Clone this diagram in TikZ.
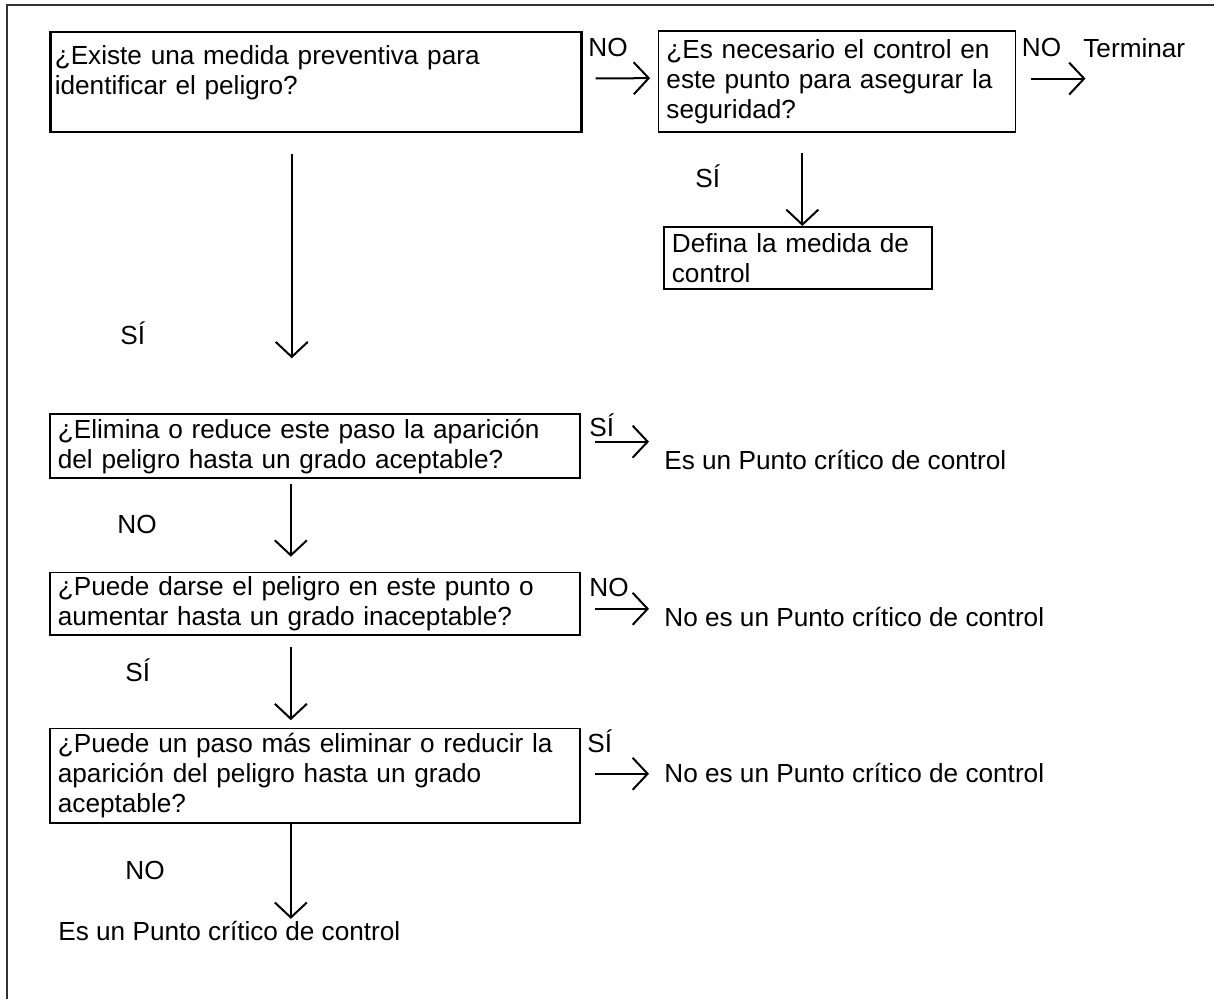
\documentclass[tikz,border=0pt]{standalone}
\usepackage{fontspec}
\setmainfont{Liberation Sans}
\usetikzlibrary{arrows.meta,positioning,calc}

\begin{document}
\begin{tikzpicture}[
    x=0.02cm, y=-0.02cm,
    every node/.style={font=\fontsize{14.9pt}{17.1pt}\selectfont},
    box/.style={draw=black, line width=0.035cm, anchor=north west, align=left, inner xsep=0.16cm, inner ysep=0pt},
    lbl/.style={anchor=base west, inner sep=0pt},
    arrow/.style={-{Straight Barb[length=0.3cm, width=0.64cm]}, line width=0.04cm},
    frame/.style={draw=black!80, line width=0.04cm}
]
    \useasboundingbox (0,0) rectangle (1214,999);
    \draw[frame] (1214,5) -- (7,5) -- (7,999);

    % cajas de decision
    \node[box, line width=0.055cm, inner xsep=0.08cm, minimum width=10.62cm, minimum height=2cm, text width=10.46cm, text depth=1.1cm] (medida) at (49.4,30.7)
        {¿Existe una medida preventiva para\\identificar el peligro?};
    \node[box, minimum width=7.14cm, minimum height=2.03cm, text width=6.82cm] (necesario) at (657.6,30)
        {¿Es necesario el control en\\este punto para asegurar la\\seguridad?};
    \node[box, minimum width=5.36cm, minimum height=1.25cm, text width=5.04cm] (defina) at (663,226)
        {Defina la medida de\\control};
    \node[box, minimum width=10.6cm, minimum height=1.28cm, text width=10.28cm] (elimina) at (49,413.3)
        {¿Elimina o reduce este paso la aparición\\del peligro hasta un grado aceptable?};
    \node[box, minimum width=10.6cm, minimum height=1.25cm, text width=10.28cm] (darse) at (49,571.7)
        {¿Puede darse el peligro en este punto o\\aumentar hasta un grado inaceptable?};
    \node[box, minimum width=10.6cm, minimum height=1.89cm, text width=10.28cm] (otropaso) at (49,727.7)
        {¿Puede un paso más eliminar o reducir la\\aparición del peligro hasta un grado\\aceptable?};

    % resultados
    \node[lbl] (terminar) at (1083,58) {Terminar};
    \node[lbl] (pccA) at (664,470) {Es un Punto crítico de control};
    \node[lbl] (nopccA) at (664,627) {No es un Punto crítico de control};
    \node[lbl] (nopccB) at (664,783) {No es un Punto crítico de control};
    \node[lbl] (pccB) at (58,940) {Es un Punto crítico de control};

    % respuestas
    \node[lbl] (noA) at (588,57) {NO};
    \node[lbl] (noB) at (1021.6,57) {NO};
    \node[lbl] (siA) at (695,188) {SÍ};
    \node[lbl] (siB) at (120,345) {SÍ};
    \node[lbl] (siC) at (589,437) {SÍ};
    \node[lbl] (noC) at (117,534) {NO};
    \node[lbl] (noD) at (589,597) {NO};
    \node[lbl] (siD) at (125,682) {SÍ};
    \node[lbl] (siE) at (587,753) {SÍ};
    \node[lbl] (noE) at (125,879) {NO};

    \draw[arrow, shorten <=0.25cm, shorten >=0.15cm] ([yshift=0.07cm]medida.east) -- ([yshift=0.07cm]necesario.west);
    \draw[arrow, shorten <=0.29cm] ([yshift=0.06cm]necesario.east) -- ([yshift=0.06cm,xshift=0.05cm]necesario.east -| terminar.west);
    \draw[arrow, shorten <=0.4cm] ([xshift=0.09cm]defina.north |- necesario.south) -- ([xshift=0.09cm]defina.north);
    \draw[arrow, shorten <=0.42cm, shorten >=1.1cm] ([xshift=-0.49cm]medida.south) -- ([xshift=-0.49cm]medida.south |- elimina.north);
    \draw[arrow, shorten <=0.09cm, shorten >=0.3cm] ([xshift=-0.48cm]elimina.south) -- ([xshift=-0.48cm]darse.north);
    \draw[arrow, shorten <=0.22cm, shorten >=0.15cm] ([xshift=-0.48cm]darse.south) -- ([xshift=-0.48cm]otropaso.north);
    \draw[arrow, shorten >=0.03cm] ([xshift=-0.48cm]otropaso.south) -- ([xshift=-0.48cm]otropaso.south |- pccB.north);
    \draw[arrow, shorten <=0.28cm, shorten >=0.3cm] ([yshift=0.09cm]elimina.east) -- ([yshift=0.09cm]elimina.east -| pccA.west);
    \draw[arrow, shorten <=0.28cm, shorten >=0.3cm] ([yshift=-0.1cm]darse.east) -- ([yshift=-0.1cm]darse.east -| nopccA.west);
    \draw[arrow, shorten <=0.28cm, shorten >=0.3cm] ([yshift=0.04cm]otropaso.east) -- ([yshift=0.04cm]otropaso.east -| nopccB.west);
\end{tikzpicture}
\end{document}
